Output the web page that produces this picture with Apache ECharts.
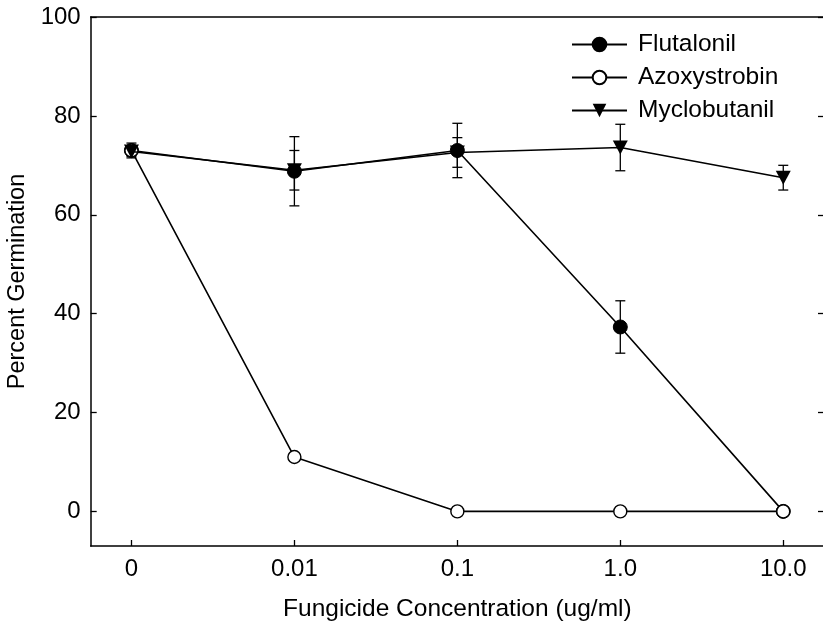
<!DOCTYPE html>
<html><head><meta charset="utf-8">
<script src="https://cdn.jsdelivr.net/npm/echarts@6/dist/echarts.min.js"></script>
<style>html,body{margin:0;padding:0;background:#fff}#c{width:823px;height:625px}</style>
</head><body><div id="c"></div>
<script>
const categories = ['0', '0.01', '0.1', '1.0', '10.0'];
const yTicks = [0, 20, 40, 60, 80, 100];
const flutalonil = [73, 68.8, 73, 37.3, 0];
const flutalonilErr = [1.5, 7, 5.5, 5.3, 0];
const azoxystrobin = [73, 11, 0, 0, 0];
const myclobutanil = [72.8, 69, 72.6, 73.6, 67.5];
const myclobutanilErr = [1, 4, 3, 4.7, 2.5];

const FONT = 'Liberation Sans, Arial, sans-serif';
const xIdx = categories.map((c, i) => i);

function errorSeries(name, vals, errs, z) {
  return {
    type: 'custom', name: name + ' err', z: z, silent: true,
    data: vals.map((v, i) => [i, v - errs[i], v + errs[i]]).filter((d, i) => errs[i] > 0),
    renderItem: function (params, api) {
      const x = api.value(0);
      const lo = api.coord([x, api.value(1)]);
      const hi = api.coord([x, api.value(2)]);
      const hw = 5;
      const st = { stroke: '#000', lineWidth: 1.3 };
      return { type: 'group', children: [
        { type: 'line', shape: { x1: lo[0], y1: lo[1], x2: hi[0], y2: hi[1] }, style: st },
        { type: 'line', shape: { x1: lo[0] - hw, y1: lo[1], x2: lo[0] + hw, y2: lo[1] }, style: st },
        { type: 'line', shape: { x1: hi[0] - hw, y1: hi[1], x2: hi[0] + hw, y2: hi[1] }, style: st }
      ]};
    }
  };
}

const tri = 'path://M0,0 L10,0 L5,9 Z';

const chart = echarts.init(document.getElementById('c'), null, { renderer: 'canvas' });
chart.setOption({
  animation: false,
  backgroundColor: '#fff',
  textStyle: { fontFamily: FONT, color: '#000' },
  grid: { left: 90.7, right: -1, top: 17, bottom: 79, containLabel: false, outerBoundsMode: 'none' },
  legend: {
    data: ['Flutalonil', 'Azoxystrobin', 'Myclobutanil'],
    orient: 'vertical', left: 566, top: 27,
    itemWidth: 55, itemHeight: 17, itemGap: 8,
    textStyle: { fontFamily: FONT, fontSize: 24.5, color: '#000', padding: [0, 0, 0, 6] }
  },
  xAxis: [{
    type: 'value', min: -0.25, max: 4.25,
    axisLine: { show: true, onZero: false, lineStyle: { color: '#000', width: 1.5 } },
    axisTick: { show: true, inside: true, length: 6, customValues: xIdx, lineStyle: { color: '#000', width: 1.3 } },
    axisLabel: { customValues: xIdx, formatter: v => categories[Math.round(v)], fontFamily: FONT, fontSize: 24, color: '#000', margin: 11 },
    splitLine: { show: false },
    name: 'Fungicide Concentration (ug/ml)', nameLocation: 'middle', nameGap: 51,
    nameTextStyle: { fontFamily: FONT, fontSize: 24.5, color: '#000' }
  }, {
    type: 'value', position: 'top', min: -0.25, max: 4.25,
    axisLine: { show: true, onZero: false, lineStyle: { color: '#000', width: 1.5 } },
    axisTick: { show: false }, axisLabel: { show: false }, splitLine: { show: false }
  }],
  yAxis: [{
    type: 'value', min: -7, max: 100,
    axisLine: { show: true, onZero: false, lineStyle: { color: '#000', width: 1.5 } },
    axisTick: { show: true, inside: true, length: 6, customValues: yTicks, lineStyle: { color: '#000', width: 1.3 } },
    axisLabel: { customValues: yTicks, fontFamily: FONT, fontSize: 24, color: '#000', margin: 10 },
    splitLine: { show: false },
    name: 'Percent Germination', nameLocation: 'middle', nameGap: 57, nameRotate: 90,
    nameTextStyle: { fontFamily: FONT, fontSize: 23.5, color: '#000' }
  }, {
    type: 'value', position: 'right', min: -7, max: 100,
    axisLine: { show: true, onZero: false, lineStyle: { color: '#000', width: 1.5 } },
    axisTick: { show: true, inside: true, length: 6, customValues: yTicks, lineStyle: { color: '#000', width: 1.3 } },
    axisLabel: { show: false }, splitLine: { show: false }
  }],
  series: [
    errorSeries('Flutalonil', flutalonil, flutalonilErr, 1),
    errorSeries('Myclobutanil', myclobutanil, myclobutanilErr, 1),
    {
      name: 'Flutalonil', type: 'line', z: 2,
      data: flutalonil.map((v, i) => [i, v]),
      symbol: 'circle', symbolSize: 14,
      lineStyle: { color: '#000', width: 1.6 },
      itemStyle: { color: '#000', borderColor: '#000', borderWidth: 1 }
    },
    {
      name: 'Azoxystrobin', type: 'line', z: 3,
      data: azoxystrobin.map((v, i) => [i, v]),
      symbol: 'circle', symbolSize: 13,
      lineStyle: { color: '#000', width: 1.6 },
      itemStyle: { color: '#fff', borderColor: '#000', borderWidth: 1.4 }
    },
    {
      name: 'Myclobutanil', type: 'line', z: 4,
      data: myclobutanil.map((v, i) => [i, v]),
      symbol: tri, symbolSize: [15, 14],
      lineStyle: { color: '#000', width: 1.6 },
      itemStyle: { color: '#000', borderColor: '#000', borderWidth: 0 }
    }
  ]
});
</script>
</body></html>
